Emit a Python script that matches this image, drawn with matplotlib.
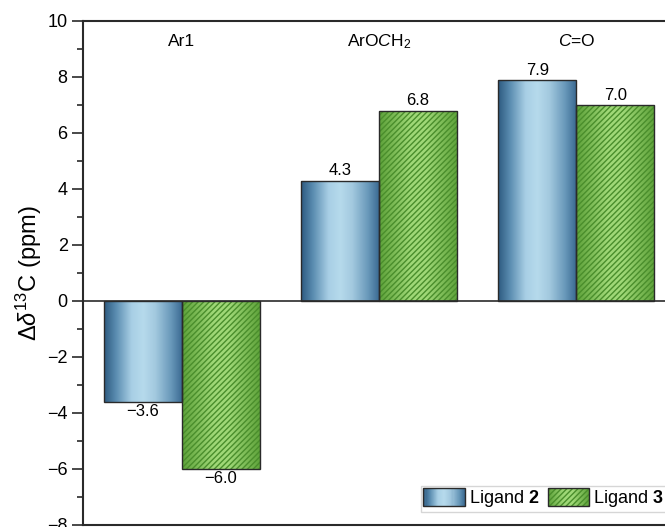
import numpy as np
import matplotlib
matplotlib.use("Agg")
import matplotlib.pyplot as plt
from matplotlib.colors import LinearSegmentedColormap
from matplotlib.patches import Rectangle
from matplotlib.legend_handler import HandlerBase

plt.rcParams['font.family'] = ['Liberation Sans', 'DejaVu Sans']
plt.rcParams['mathtext.fontset'] = 'custom'
plt.rcParams['mathtext.rm'] = 'Liberation Sans'
plt.rcParams['mathtext.it'] = 'Liberation Sans:italic'
plt.rcParams['mathtext.bf'] = 'Liberation Sans:bold'
plt.rcParams['hatch.linewidth'] = 1.0

categories = ["Ar1", r"ArO$\mathit{C}$H$_2$", r"$\mathit{C}$=O"]
ligand2 = [-3.6, 4.3, 7.9]
ligand3 = [-6.0, 6.8, 7.0]
series_labels = [r"Ligand $\mathbf{2}$", r"Ligand $\mathbf{3}$"]
yticks = [-8, -6, -4, -2, 0, 2, 4, 6, 8, 10]

blue_cmap = LinearSegmentedColormap.from_list(
    "blue_tube",
    [(0.0, "#2d5a80"), (0.15, "#5a8cb0"), (0.35, "#a8cfe5"), (0.5, "#b6daec"),
     (0.65, "#a3c9df"), (0.85, "#6999ba"), (1.0, "#386790")])
green_cmap = LinearSegmentedColormap.from_list(
    "green_tube",
    [(0.0, "#5ea23a"), (0.4, "#9fd877"), (0.6, "#9fd877"), (1.0, "#5ea23a")])
hatch_green = "#4a8e2c"
hatch_pattern = '//////'
edge_col = "#2a2a2a"

fig = plt.figure(figsize=(6.65, 5.27), dpi=100)
ax = fig.add_axes([0.1248, 0.0038, 0.8902, 0.9564])

x = np.arange(len(categories))
width = 0.396
grad = np.linspace(0, 1, 256).reshape(1, -1)


def fill_bars(bars, cmap, hatch=None):
    for b in bars:
        x0, y0 = b.get_x(), b.get_y()
        w, h = b.get_width(), b.get_height()
        im = ax.imshow(grad, cmap=cmap, aspect='auto',
                       extent=[x0, x0 + w, y0, y0 + h], zorder=2,
                       interpolation='bilinear')
        im.set_clip_path(b)
        if hatch:
            ax.add_patch(Rectangle((x0, y0), w, h, facecolor='none',
                                   edgecolor=hatch_green, hatch=hatch,
                                   linewidth=0, zorder=3))
        ax.add_patch(Rectangle((x0, y0), w, h, facecolor='none',
                               edgecolor=edge_col, linewidth=1.0, zorder=4))


bars2 = ax.bar(x - width / 2, ligand2, width, facecolor='none',
               edgecolor='none', zorder=1)
bars3 = ax.bar(x + width / 2, ligand3, width, facecolor='none',
               edgecolor='none', zorder=1)
fill_bars(bars2, blue_cmap)
fill_bars(bars3, green_cmap, hatch=hatch_pattern)

for bars, vals in ((bars2, ligand2), (bars3, ligand3)):
    for b, v in zip(bars, vals):
        cx = b.get_x() + b.get_width() / 2
        txt = f"{v:.1f}".replace("-", "\u2212")
        if v >= 0:
            ax.annotate(txt, (cx, v), xytext=(0, 1.5), textcoords='offset points',
                        ha='center', va='bottom', fontsize=12, zorder=5)
        else:
            ax.annotate(txt, (cx, v), xytext=(0, -1.5), textcoords='offset points',
                        ha='center', va='top', fontsize=12, zorder=5)

for xi, name in zip(x, categories):
    ax.text(xi, 9.27, name, ha='center', va='center', fontsize=12.5)

ax.axhline(0, color=edge_col, linewidth=1.2, zorder=4)

ax.set_xlim(-0.5, 2.5)
ax.set_ylim(-8, 10)
ax.set_yticks(yticks)
ax.set_yticklabels([str(t).replace("-", "\u2212") for t in yticks])
ax.set_yticks(np.arange(-7, 10, 2), minor=True)
ax.set_xticks([])
ax.tick_params(axis='y', which='major', direction='out', length=8, width=1.2,
               labelsize=13, pad=3, color=edge_col)
ax.tick_params(axis='y', which='minor', direction='out', length=4.5, width=1.2,
               color=edge_col)
for s in ('left', 'top', 'bottom', 'right'):
    ax.spines[s].set_linewidth(1.5)
    ax.spines[s].set_color(edge_col)

ax.set_ylabel(r"$\Delta\mathit{\delta}^{13}$C (ppm)", fontsize=17, labelpad=2.5)


class GradientHandler(HandlerBase):
    def __init__(self, cmap, hatch=None):
        super().__init__()
        self.cmap = cmap
        self.hatch = hatch

    def create_artists(self, legend, orig_handle, xdescent, ydescent,
                       width, height, fontsize, trans):
        x0, y0 = -xdescent, -ydescent
        n = 40
        arts = []
        for i in range(n):
            c = self.cmap((i + 0.5) / n)
            arts.append(Rectangle((x0 + width * i / n, y0), width / n * 1.05,
                                  height, facecolor=c, edgecolor='none',
                                  transform=trans))
        if self.hatch:
            arts.append(Rectangle((x0, y0), width, height, facecolor='none',
                                  edgecolor=hatch_green, hatch=self.hatch,
                                  linewidth=0, transform=trans))
        arts.append(Rectangle((x0, y0), width, height, facecolor='none',
                              edgecolor=edge_col, linewidth=1.0,
                              transform=trans))
        return arts


h2 = Rectangle((0, 0), 1, 1)
h3 = Rectangle((0, 0), 1, 1)
leg = ax.legend([h2, h3], series_labels, loc='lower right', ncol=2,
                bbox_to_anchor=(0.985, 0.0258), borderaxespad=0,
                fontsize=13, frameon=True, fancybox=False,
                handlelength=2.3, handleheight=1.15, handletextpad=0.2,
                columnspacing=0.5, borderpad=0.15,
                handler_map={h2: GradientHandler(blue_cmap),
                             h3: GradientHandler(green_cmap, hatch_pattern)})
leg.get_frame().set_edgecolor("#cccccc")
leg.get_frame().set_linewidth(1.0)

fig.savefig("out.png", dpi=100)
